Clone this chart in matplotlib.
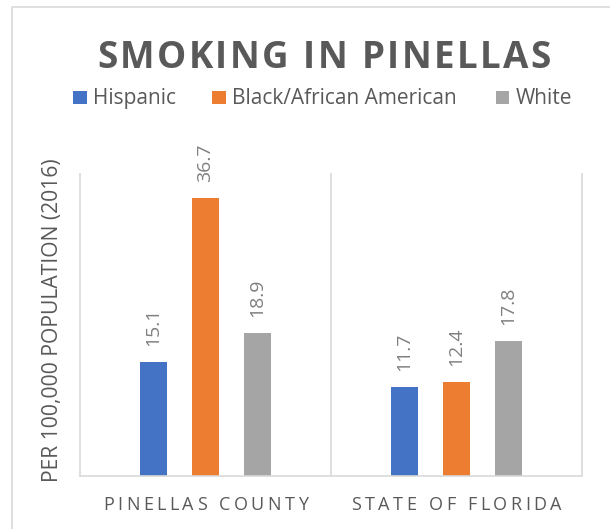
import numpy as np
import matplotlib
matplotlib.use("Agg")
import matplotlib.pyplot as plt
from matplotlib.font_manager import FontProperties, findfont, get_font
from matplotlib.patches import Rectangle
from matplotlib.lines import Line2D

# ---- data ----
categories = ["PINELLAS COUNTY", "STATE OF FLORIDA"]
series_names = ["Hispanic", "Black/African American", "White"]
hispanic = [15.1, 11.7]
black_african_american = [36.7, 12.4]
white = [18.9, 17.8]
title = "SMOKING IN PINELLAS"
y_label = "PER 100,000 POPULATION (2016)"

series_values = [hispanic, black_african_american, white]
colors = ["#4472C4", "#ED7D31", "#A5A5A5"]

# ---- canvas ----
W, H, DPI = 610, 529, 100
FONT = "Open Sans"
DARK = "#595959"
LABEL_GRAY = "#7F7F7F"
LINE_GRAY = "#D9D9D9"

fig = plt.figure(figsize=(W / DPI, H / DPI), dpi=DPI)


def fx(px):
    return px / W


def fy(py):
    return 1 - py / H


def advances(s, fp):
    font = get_font(findfont(fp))
    font.set_size(fp.get_size_in_points(), DPI)
    return [font.load_char(ord(c)).linearHoriAdvance / 65536 for c in s]


def spaced_text(s, cx, baseline, fp, color, width):
    """Draw s centred at cx with letter spacing so it spans `width` pixels."""
    adv = advances(s, fp)
    track = (width - sum(adv)) / (len(s) - 1)
    x = cx - width / 2
    for ch, a in zip(s, adv):
        fig.text(fx(x), fy(baseline), ch, fontproperties=fp, color=color,
                 ha="left", va="baseline")
        x += a + track


# outer chart frame (left and top edges)
fig.add_artist(Line2D([fx(11.5), fx(11.5), fx(W)], [fy(H), fy(6.5), fy(6.5)],
                      transform=fig.transFigure, color=LINE_GRAY, lw=1.2))

# title
title_fp = FontProperties(family=FONT, weight="bold", size=26.5)
spaced_text(title, 324, 68, title_fp, DARK, 454)

# legend
leg_fp = FontProperties(family=FONT, size=15)
legend_items = [(73, 93), (212, 231.5), (496, 516)]
for (sq_x, tx), name, col in zip(legend_items, series_names, colors):
    fig.add_artist(Rectangle((fx(sq_x), fy(104)), fx(13.5), fy(91) - fy(104),
                             transform=fig.transFigure, facecolor=col,
                             edgecolor="none"))
    fig.text(fx(tx), fy(104), name, fontproperties=leg_fp, color=DARK,
             ha="left", va="baseline")

# plot area
ax = fig.add_axes([fx(80), fy(476), fx(582) - fx(80), fy(173) - fy(476)])
ax.set_xlim(-0.5, len(categories) - 0.5)
ax.set_ylim(0, 40)

x = np.arange(len(categories))
offsets = [-0.207, 0.0, 0.207]
bar_w = 0.108
val_fp = FontProperties(family=FONT, size=14)
for vals, off, col in zip(series_values, offsets, colors):
    ax.bar(x + off, vals, width=bar_w, color=col, zorder=2)
    for xi, v in zip(x, vals):
        ax.annotate(f"{v:.1f}", (xi + off, v), xytext=(0, 11.5),
                    textcoords="offset points", rotation=90, ha="center",
                    va="bottom", color=LABEL_GRAY, fontproperties=val_fp)

# category separators
ax.vlines(np.arange(len(categories) + 1) - 0.5, 0, 40, color=LINE_GRAY,
          lw=1.2, zorder=1, clip_on=False)
for side in ("top", "right", "left"):
    ax.spines[side].set_visible(False)
ax.spines["bottom"].set_color(LINE_GRAY)
ax.spines["bottom"].set_linewidth(1.2)
ax.set_xticks([])
ax.set_yticks([])

# category labels
cat_fp = FontProperties(family=FONT, size=13)
cat_widths = [205, 210]
fig.canvas.draw()
for i, (cat, wdt) in enumerate(zip(categories, cat_widths)):
    cx_disp = ax.transData.transform((i, 0))[0]
    spaced_text(cat, cx_disp, 510, cat_fp, DARK, wdt)

# y axis title
ylab_fp = FontProperties(family=FONT, size=14)
ylab_len = sum(advances(y_label, ylab_fp))
ylab_fp.set_size(14 * 325 / ylab_len)
fig.text(fx(53), fy(320), y_label, fontproperties=ylab_fp, color=DARK,
         rotation=90, ha="center", va="center")

fig.savefig("out.png", dpi=DPI)
